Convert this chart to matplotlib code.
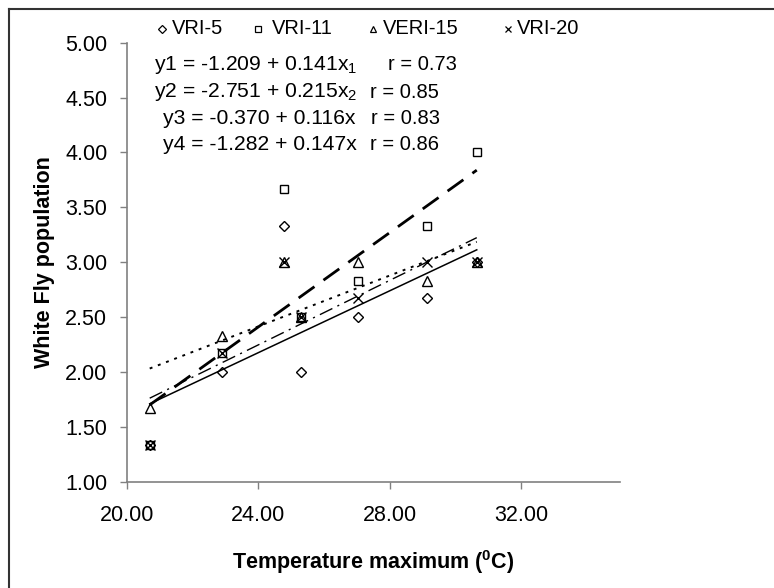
import matplotlib
matplotlib.use("Agg")
import matplotlib.pyplot as plt
from matplotlib.lines import Line2D
import numpy as np

plt.rcParams['font.family'] = ['Liberation Sans', 'DejaVu Sans']
plt.rcParams['mathtext.fontset'] = 'custom'
plt.rcParams['mathtext.rm'] = 'Liberation Sans'
plt.rcParams['mathtext.it'] = 'Liberation Sans:italic'
plt.rcParams['mathtext.bf'] = 'Liberation Sans:bold'

# ---- data ----
temperature = [20.7, 22.9, 24.8, 25.3, 27.05, 29.15, 30.65]
series_names = ["VRI-5", "VRI-11", "VERI-15", "VRI-20"]
vri5 = [1.33, 2.00, 3.33, 2.00, 2.50, 2.67, 3.00]
vri11 = [1.33, 2.17, 3.67, 2.50, 2.83, 3.33, 4.00]
veri15 = [1.67, 2.33, 3.00, 2.50, 3.00, 2.83, 3.00]
vri20 = [1.33, 2.17, 3.00, 2.50, 2.67, 3.00, 3.00]
fit_intercepts = [-1.209, -2.751, -0.370, -1.282]
fit_slopes = [0.141, 0.215, 0.116, 0.147]
equations = [r"y1 = -1.209 + 0.141x$_1$", r"y2 = -2.751 + 0.215x$_2$",
             r"y3 = -0.370 + 0.116x", r"y4 = -1.282 + 0.147x"]
r_labels = ["r = 0.73", "r = 0.85", "r = 0.83", "r = 0.86"]
x_ticks = [20, 24, 28, 32]
y_ticks = [1.0, 1.5, 2.0, 2.5, 3.0, 3.5, 4.0, 4.5, 5.0]

FS = 15.5
W, H = 774, 588
fig = plt.figure(figsize=(7.74, 5.88), dpi=100)
ax = fig.add_axes([0.1637, 0.1808, 0.8007 - 0.1637, 0.9274 - 0.1808])

markers = ['D', 's', '^', 'x']
msizes = [5.5, 6, 6.5, 7]
line_styles = ['-', (0, (7, 4)), (0, (1.5, 3)), (0, (10, 4, 1.5, 4))]
line_widths = [1.1, 2.0, 1.4, 1.0]
series = [vri5, vri11, veri15, vri20]

xfit = np.array([min(temperature), max(temperature)])
for i, ys in enumerate(series):
    ax.plot(xfit, fit_intercepts[i] + fit_slopes[i] * xfit, color='black',
            linestyle=line_styles[i], linewidth=line_widths[i], zorder=2)

for i, ys in enumerate(series):
    if markers[i] == 'x':
        ax.plot(temperature, ys, linestyle='none', marker='x', markersize=msizes[i],
                color='black', markeredgewidth=1.0, zorder=3, label=series_names[i])
    else:
        ax.plot(temperature, ys, linestyle='none', marker=markers[i], markersize=msizes[i],
                markerfacecolor='none', markeredgecolor='black', markeredgewidth=1.0,
                zorder=3, label=series_names[i])

ax.set_xlim(20, 35)
ax.set_ylim(1.0, 5.0)
ax.set_xticks(x_ticks)
ax.set_xticklabels([f"{v:.2f}" for v in x_ticks])
ax.set_yticks(y_ticks)
ax.set_yticklabels([f"{v:.2f}" for v in y_ticks])
for s in ['top', 'right']:
    ax.spines[s].set_visible(False)
for s in ['left', 'bottom']:
    ax.spines[s].set_color('#808080')
    ax.spines[s].set_linewidth(1.2)
ax.tick_params(axis='both', colors='#808080', labelcolor='black', labelsize=FS,
               length=5, width=1.0, direction='out')
ax.tick_params(axis='y', pad=9)
ax.tick_params(axis='x', pad=12)

ax.set_xlabel(r"Temperature maximum ($^{\mathbf{0}}$C)", fontsize=FS, fontweight='bold', labelpad=16)
ax.set_ylabel("White Fly population", fontsize=FS, fontweight='bold', labelpad=7)

# legend row (key markers + names)
LFS = 14.5
leg_y = 1 - 29 / H
leg_marker_x = [162, 258, 373, 508]
leg_text_x = [172, 272, 383, 517]
for i in range(4):
    fig.add_artist(Line2D([leg_marker_x[i] / W], [leg_y], transform=fig.transFigure,
                          linestyle='none', marker=markers[i], markersize=4.5,
                          markerfacecolor='none', markeredgecolor='black', color='black',
                          markeredgewidth=0.9))
    fig.text(leg_text_x[i] / W, leg_y, series_names[i], fontsize=LFS, va='center', ha='left')

EFS = 15.2
eq_x = [154, 154, 163, 163]
eq_y = [65, 92, 118, 144]
r_x = [388, 370, 371, 370]
for i in range(4):
    fig.text(eq_x[i] / W, 1 - eq_y[i] / H, equations[i], fontsize=EFS, va='center', ha='left')
    fig.text(r_x[i] / W, 1 - eq_y[i] / H, r_labels[i], fontsize=EFS - 0.7, va='center', ha='left')

# partial outer frame (left and top)
fig.add_artist(Line2D([9 / W, 9 / W], [0, 1 - 9 / H], transform=fig.transFigure,
                      color='#333333', linewidth=1.5))
fig.add_artist(Line2D([9 / W, 1], [1 - 9 / H, 1 - 9 / H], transform=fig.transFigure,
                      color='#333333', linewidth=1.5))

fig.savefig("out.png", dpi=100)
